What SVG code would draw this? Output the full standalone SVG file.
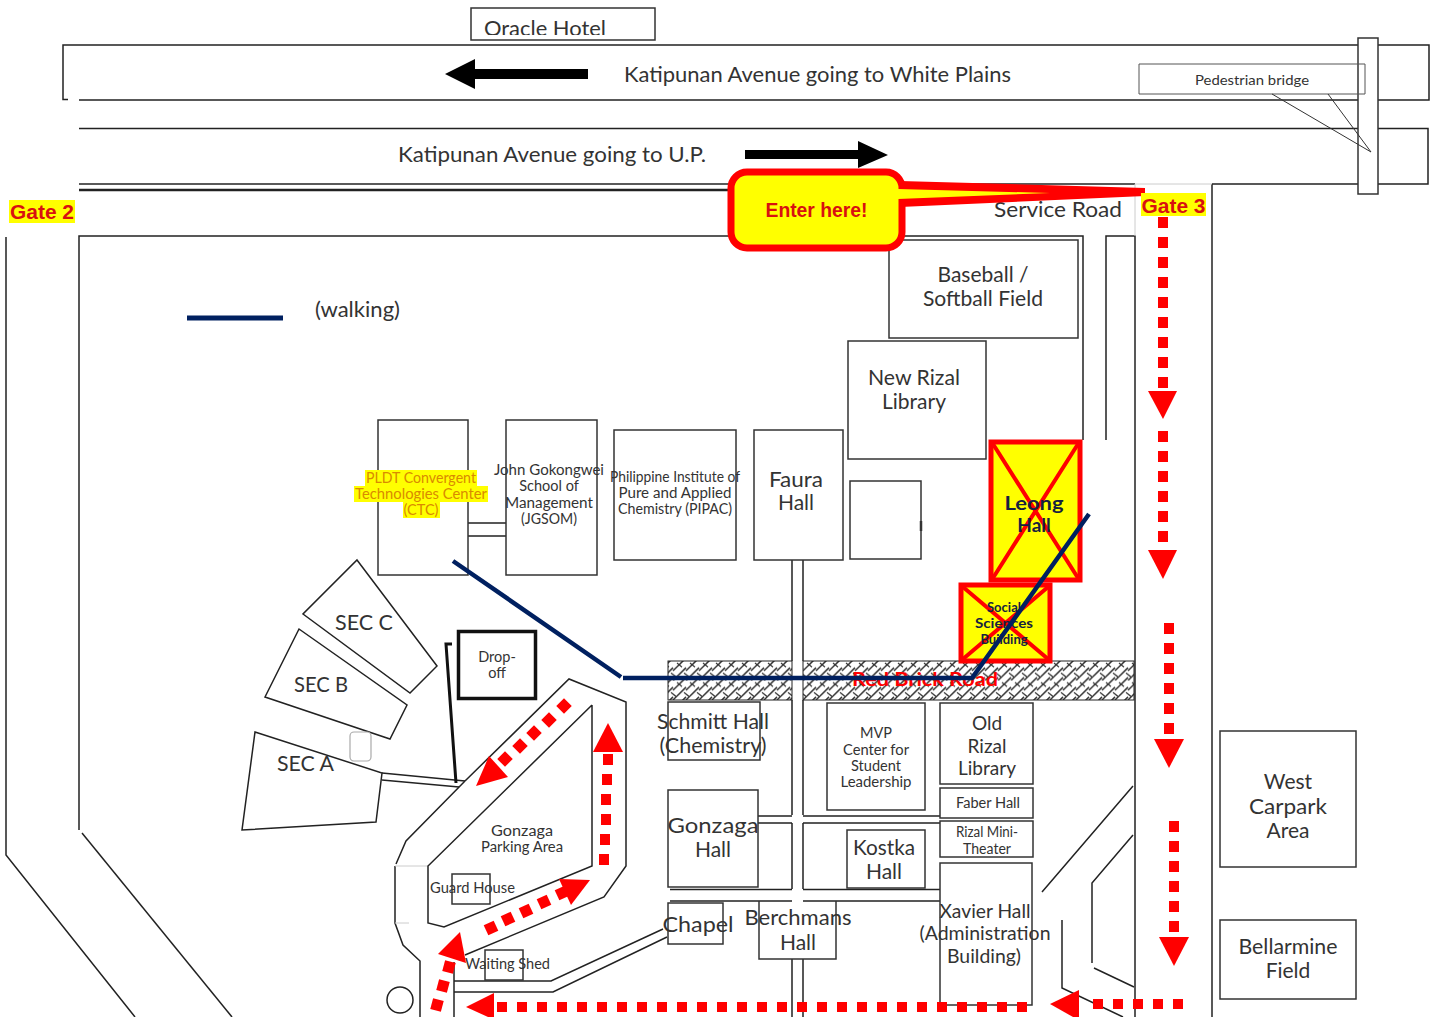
<svg xmlns="http://www.w3.org/2000/svg" width="1438" height="1017" viewBox="0 0 1438 1017">
<style>
text{font-family:"Lato","Liberation Sans",sans-serif;fill:#333;text-anchor:middle}
.l{font-size:21px}.m{font-size:19px}.s{font-size:14.5px}
.start{text-anchor:start}
.b{fill:none;stroke:#333;stroke-width:1.5}
.w{fill:#fff;stroke:#333;stroke-width:1.5}
.r{fill:none;stroke:#222;stroke-width:1.5}
.f{fill:none;stroke:#ccc;stroke-width:1}
.nv{fill:none;stroke:#002060;stroke-width:4.5}
.red{fill:#f00;stroke:none}
.rt{fill:#d81010;font-family:"Liberation Sans",sans-serif;font-weight:700}
.hl{fill:#ff0;stroke:none}
.x{fill:#ff0;stroke:#f00;stroke-width:5}
.xl{stroke:#f00;stroke-width:4;fill:none}
.dk{fill:#16213f;font-weight:700}
.o{fill:#d98a00}
</style>
<defs>
<pattern id="brick" width="13" height="19.500" patternUnits="userSpaceOnUse" y="661">
<rect width="13" height="19.500" fill="#fff"/>
<path d="M-3 9.750L10 -3M10 9.750L23 -3M-3 19.500L10 6.750M10 19.500L23 6.750M-3 29.250L10 16.500" fill="none" stroke="#333" stroke-width="1.500"/>
<path d="M1 2L6 6M8 12L13 16" fill="none" stroke="#333" stroke-width="1.200"/>
</pattern>
<clipPath id="oc"><rect x="471" y="8" width="184" height="27"/></clipPath>
<g id="sq"><rect x="-5.500" y="-5.500" width="11" height="11"/></g>
</defs>

<g id="connectors">
<path class="r" d="M68 99.500H63V45H1429V100H79"/>
<path class="r" d="M79 128.500H1428V184H1212"/>
<path class="r" d="M79 184H1135"/>
<path d="M79 190H731" stroke="#222" stroke-width="2.500" fill="none"/>
<path class="r" d="M79 830V236H1083V440"/>
<path class="r" d="M1106 440V236H1135V1017"/>
<path class="r" d="M1212 184V1017"/>
<path class="f" d="M1135 184V236M1135 184H1212"/>
<path class="r" d="M6 237V855L135 1017"/>
<path class="r" d="M82 833L232 1017"/>
<path class="r" d="M792 560V661M803 560V661M792 700V815M803 700V815M792 823V889M803 823V889M792 959V1017M803 959V1017"/>
<path class="r" d="M758 816H792M758 823H792M803 816H940M803 823H940"/>
<path class="r" d="M670 889.500H792M670 901H792M803 889.500H940M803 901H940"/>
<path class="r" d="M468 523H506M468 536H506"/>
<path class="r" d="M382 773L465 781M382 780L459 787"/>
<path d="M452 644H446L456 783" fill="none" stroke="#111" stroke-width="3"/>
<path class="r" d="M465 781L569 679L626 702V866L604 897L465 955"/>
<path class="r" d="M465 781L406 841L396 864"/>
<path class="r" d="M395 866V923L403 945L420 961V1017"/>
<path class="f" d="M395 866H428M395 923H409"/>
<path class="r" d="M592 705V866L444 927L428 923V866L592 705"/>
<path class="r" d="M454 962V1017"/>
<path class="r" d="M454 981H551L663 929M454 992H553L667 937"/>
<circle class="r" cx="400" cy="1000" r="13"/>
<path class="r" d="M1133 786L1042 892M1133 835L1092 883V963M1094 968L1134 987M1062 920V988L1123 1017"/>
<rect x="668" y="661" width="124" height="39" fill="url(#brick)" stroke="#222" stroke-width="1"/>
<rect x="803" y="661" width="331" height="39" fill="url(#brick)" stroke="#222" stroke-width="1"/>
</g>

<g id="oracle-hotel"><rect class="b" x="471" y="8" width="184" height="32"/><text class="l start" x="484" y="36" textLength="122" lengthAdjust="spacingAndGlyphs" clip-path="url(#oc)">Oracle Hotel</text></g>
<g id="road-labels">
<text class="l" x="817.500" y="82" textLength="387" lengthAdjust="spacingAndGlyphs">Katipunan Avenue going to White Plains</text>
<text class="l" x="552" y="162" textLength="308" lengthAdjust="spacingAndGlyphs">Katipunan Avenue going to U.P.</text>
<path d="M445 74L475 59V69H588V79H475V89Z" fill="#000"/>
<path d="M888 155L858 141V150H745V159H858V168Z" fill="#000"/>
</g>
<g id="pedestrian-bridge">
<rect class="w" x="1358" y="38" width="20" height="156"/>
<path d="M1139 64H1365V94H1139Z" fill="none" stroke="#555" stroke-width="1"/>
<path d="M1272 94L1371 152L1328 94" fill="none" stroke="#333" stroke-width="1"/>
<text x="1252" y="85" font-size="13.500" textLength="114" lengthAdjust="spacingAndGlyphs">Pedestrian bridge</text>
</g>
<g id="gate-2"><rect class="hl" x="9" y="200" width="66" height="23"/><text class="rt" x="42" y="219" font-size="20" textLength="64" lengthAdjust="spacingAndGlyphs">Gate 2</text></g>
<g id="service-road"><text class="l" x="1058" y="217" textLength="128" lengthAdjust="spacingAndGlyphs">Service Road</text></g>
<g id="baseball"><rect class="b" x="889" y="240" width="189" height="98"/><text class="l" x="983" y="282">Baseball /</text><text class="l" x="983" y="306" textLength="120" lengthAdjust="spacingAndGlyphs">Softball Field</text></g>
<g id="new-rizal"><rect class="b" x="848" y="341" width="138" height="118"/><text class="l" x="914" y="385" textLength="92" lengthAdjust="spacingAndGlyphs">New Rizal</text><text class="l" x="914" y="409">Library</text></g>
<g id="legend"><path d="M187 318H283" stroke="#002060" stroke-width="5" fill="none"/><text class="l start" x="315" y="317" textLength="85" lengthAdjust="spacingAndGlyphs">(walking)</text></g>
<g id="ctc"><rect class="b" x="378" y="420" width="90" height="155"/>
<rect class="hl" x="365" y="470" width="112" height="16"/><rect class="hl" x="354" y="486" width="134" height="16"/><rect class="hl" x="403" y="502" width="37" height="16"/>
<text class="s o" x="421" y="483" textLength="110" lengthAdjust="spacingAndGlyphs">PLDT Convergent</text><text class="s o" x="421" y="499" textLength="132" lengthAdjust="spacingAndGlyphs">Technologies Center</text><text class="s o" x="421" y="515" textLength="35" lengthAdjust="spacingAndGlyphs">(CTC)</text></g>
<g id="jgsom"><rect class="b" x="506" y="420" width="91" height="155"/><text class="s" x="549" y="475" textLength="110" lengthAdjust="spacingAndGlyphs">John Gokongwei</text><text class="s" x="549" y="491">School of</text><text class="s" x="549" y="508" textLength="88" lengthAdjust="spacingAndGlyphs">Management</text><text class="s" x="549" y="524" textLength="56" lengthAdjust="spacingAndGlyphs">(JGSOM)</text></g>
<g id="pipac"><rect class="b" x="614" y="430" width="122" height="130"/><text class="s" x="675" y="482" textLength="130" lengthAdjust="spacingAndGlyphs">Philippine Institute of</text><text class="s" x="675" y="498" textLength="113" lengthAdjust="spacingAndGlyphs">Pure and Applied</text><text class="s" x="675" y="514" textLength="114" lengthAdjust="spacingAndGlyphs">Chemistry (PIPAC)</text></g>
<g id="faura"><rect class="b" x="754" y="430" width="89" height="130"/><text class="l" x="796" y="487" textLength="54" lengthAdjust="spacingAndGlyphs">Faura</text><text class="l" x="796" y="510">Hall</text></g>
<g id="small-building"><rect class="b" x="850" y="481" width="71" height="78"/><path d="M921 521V531" stroke="#333" stroke-width="2.500"/></g>
<g id="leong"><rect class="x" x="991" y="442" width="89" height="138"/><path class="xl" d="M993 444L1078 578M1078 444L993 578"/><text class="m dk" x="1034" y="510" textLength="59" lengthAdjust="spacingAndGlyphs">Leong</text><text class="m dk" x="1034" y="532">Hall</text></g>
<g id="social-sciences"><rect class="x" x="961" y="585" width="89" height="76"/><path class="xl" d="M963 587L1048 659M1048 587L963 659"/><text class="dk" x="1004" y="612" font-size="13">Social</text><text class="dk" x="1004" y="628" font-size="13" textLength="58" lengthAdjust="spacingAndGlyphs">Sciences</text><text class="dk" x="1004" y="644" font-size="13">Building</text></g>
<g id="red-brick-road"><text x="925" y="686" font-size="19" textLength="146" lengthAdjust="spacingAndGlyphs" style="fill:#f00;font-weight:700">Red Brick Road</text></g>
<g id="walking-route"><path class="nv" d="M453 561L621 677M623 678H972L1089 514"/></g>
<g id="sec-c"><path class="r" d="M357 560L437 666L410 693L303 614Z"/><text class="l" x="364" y="630" textLength="58" lengthAdjust="spacingAndGlyphs">SEC C</text></g>
<g id="sec-b"><path class="r" d="M299 629L407 705L390 739L265 697Z"/><text class="l" x="321" y="692" textLength="54" lengthAdjust="spacingAndGlyphs">SEC B</text></g>
<g id="sec-a"><path class="r" d="M255 732L382 773L376 822L242 830Z"/><text class="l" x="305.500" y="771" textLength="57" lengthAdjust="spacingAndGlyphs">SEC A</text></g>
<g id="kiosk"><rect x="350" y="732" width="21" height="29" rx="4" fill="#fff" stroke="#aaa" stroke-width="1.200"/></g>
<g id="drop-off"><rect x="458.500" y="631.500" width="77" height="67" fill="#fff" stroke="#111" stroke-width="3.500"/><text class="s" x="497" y="662">Drop-</text><text class="s" x="497" y="678">off</text></g>
<g id="gonzaga-parking"><text class="s" x="522" y="836" textLength="62" lengthAdjust="spacingAndGlyphs">Gonzaga</text><text class="s" x="522" y="852" textLength="82" lengthAdjust="spacingAndGlyphs">Parking Area</text></g>
<g id="guard-house"><rect class="b" x="452" y="874" width="38" height="30"/><text class="s" x="472.500" y="893" textLength="85" lengthAdjust="spacingAndGlyphs">Guard House</text></g>
<g id="waiting-shed"><rect class="b" x="485" y="950" width="38" height="30"/><text class="s" x="507.500" y="969" textLength="85" lengthAdjust="spacingAndGlyphs">Waiting Shed</text></g>
<g id="schmitt"><rect class="b" x="668" y="702" width="92" height="58"/><text class="l" x="713" y="729" textLength="112" lengthAdjust="spacingAndGlyphs">Schmitt Hall</text><text class="l" x="713" y="753" textLength="107" lengthAdjust="spacingAndGlyphs">(Chemistry)</text></g>
<g id="mvp"><rect class="b" x="827" y="703" width="98" height="107"/><text class="s" x="876" y="738">MVP</text><text class="s" x="876" y="755" textLength="66" lengthAdjust="spacingAndGlyphs">Center for</text><text class="s" x="876" y="771" textLength="50" lengthAdjust="spacingAndGlyphs">Student</text><text class="s" x="876" y="787" textLength="71" lengthAdjust="spacingAndGlyphs">Leadership</text></g>
<g id="old-rizal"><rect class="b" x="940" y="703" width="93" height="81"/><text class="m" x="987" y="730">Old</text><text class="m" x="987" y="753">Rizal</text><text class="m" x="987" y="775" textLength="58" lengthAdjust="spacingAndGlyphs">Library</text></g>
<g id="faber"><rect class="b" x="940" y="788" width="93" height="30"/><text class="s" x="988" y="808" textLength="64" lengthAdjust="spacingAndGlyphs">Faber Hall</text></g>
<g id="rizal-mini"><rect class="b" x="940" y="821" width="93" height="36"/><text class="s" x="987" y="837" textLength="62" lengthAdjust="spacingAndGlyphs">Rizal Mini-</text><text class="s" x="987" y="854" textLength="48" lengthAdjust="spacingAndGlyphs">Theater</text></g>
<g id="gonzaga-hall"><rect class="b" x="668" y="790" width="90" height="97"/><text class="l" x="713" y="833" textLength="91" lengthAdjust="spacingAndGlyphs">Gonzaga</text><text class="l" x="713" y="857">Hall</text></g>
<g id="kostka"><rect class="b" x="847" y="830" width="78" height="58"/><text class="l" x="884" y="855" textLength="62" lengthAdjust="spacingAndGlyphs">Kostka</text><text class="l" x="884" y="879">Hall</text></g>
<g id="chapel"><rect class="b" x="668" y="903" width="55" height="41"/><text class="l" x="698" y="932" textLength="71" lengthAdjust="spacingAndGlyphs">Chapel</text></g>
<g id="berchmans"><path class="b" d="M759 901V959H836V901"/><text class="l" x="798" y="925" textLength="107" lengthAdjust="spacingAndGlyphs">Berchmans</text><text class="l" x="798" y="950">Hall</text></g>
<g id="xavier"><rect class="b" x="940" y="863" width="92" height="142"/><text class="m" x="985" y="918" textLength="91" lengthAdjust="spacingAndGlyphs">Xavier Hall</text><text class="m" x="985" y="940" textLength="131" lengthAdjust="spacingAndGlyphs">(Administration</text><text class="m" x="984" y="963" textLength="74" lengthAdjust="spacingAndGlyphs">Building)</text></g>
<g id="west-carpark"><rect class="b" x="1220" y="731" width="136" height="136"/><text class="l" x="1288" y="789">West</text><text class="l" x="1288" y="814" textLength="78" lengthAdjust="spacingAndGlyphs">Carpark</text><text class="l" x="1288" y="838">Area</text></g>
<g id="bellarmine"><rect class="b" x="1220" y="920" width="136" height="79"/><text class="l" x="1288" y="954" textLength="99" lengthAdjust="spacingAndGlyphs">Bellarmine</text><text class="l" x="1288" y="978">Field</text></g>

<g id="driving-route" class="red">
<path d="M1158 217h10v11h-10zM1158 237h10v11h-10zM1158 257h10v11h-10zM1158 277h10v11h-10zM1158 297h10v11h-10zM1158 317h10v11h-10zM1158 337h10v11h-10zM1158 357h10v11h-10zM1158 377h10v11h-10z"/>
<path d="M1148 391H1177L1163 419Z"/>
<path d="M1158 431h10v11h-10zM1158 451h10v11h-10zM1158 471h10v11h-10zM1158 491h10v11h-10zM1158 511h10v11h-10zM1158 531h10v11h-10z"/>
<path d="M1148 550H1177L1163 579Z"/>
<path d="M1164 623h10v11h-10zM1164 643h10v11h-10zM1164 663h10v11h-10zM1164 683h10v11h-10zM1164 703h10v11h-10zM1164 723h10v11h-10z"/>
<path d="M1154 739H1184L1169 768Z"/>
<path d="M1169 821h10v11h-10zM1169 841h10v11h-10zM1169 861h10v11h-10zM1169 881h10v11h-10zM1169 901h10v11h-10zM1169 921h10v11h-10z"/>
<path d="M1159 937H1189L1174 966Z"/>
<path d="M1173 999h10v10h-10zM1153 999h10v10h-10zM1133 999h10v10h-10zM1113 999h10v10h-10zM1093 999h10v10h-10z"/>
<path d="M1050 1004L1079 990V1017H1073Z"/>
<path d="M497 1002h10v10h-10zM517 1002h10v10h-10zM537 1002h10v10h-10zM557 1002h10v10h-10zM577 1002h10v10h-10zM597 1002h10v10h-10zM617 1002h10v10h-10zM637 1002h10v10h-10zM657 1002h10v10h-10zM677 1002h10v10h-10zM697 1002h10v10h-10zM717 1002h10v10h-10zM737 1002h10v10h-10zM757 1002h10v10h-10zM777 1002h10v10h-10zM797 1002h10v10h-10zM817 1002h10v10h-10zM837 1002h10v10h-10zM857 1002h10v10h-10zM877 1002h10v10h-10zM897 1002h10v10h-10zM917 1002h10v10h-10zM937 1002h10v10h-10zM957 1002h10v10h-10zM977 1002h10v10h-10zM997 1002h10v10h-10zM1017 1002h10v10h-10z"/>
<path d="M466 1007L494 993V1017H488Z"/>
<use href="#sq" transform="translate(437 1005) rotate(15)"/><use href="#sq" transform="translate(443 986) rotate(15)"/><use href="#sq" transform="translate(449 967) rotate(15)"/>
<path d="M460 932L438 954L466 963Z"/>
<use href="#sq" transform="translate(491 928) rotate(-25)"/><use href="#sq" transform="translate(508 919) rotate(-25)"/><use href="#sq" transform="translate(526 911) rotate(-25)"/><use href="#sq" transform="translate(544 902) rotate(-25)"/><use href="#sq" transform="translate(562 893) rotate(-25)"/>
<path d="M590 880L559 879L571 905Z"/>
<path d="M599 854h10v11h-10zM600 834h10v11h-10zM601 814h10v11h-10zM601 794h10v11h-10zM602 774h10v11h-10zM603 754h10v11h-10z"/>
<path d="M608 723L593 752H623Z"/>
<use href="#sq" transform="translate(564 706) rotate(45)"/><use href="#sq" transform="translate(549 720) rotate(45)"/><use href="#sq" transform="translate(534 733) rotate(45)"/><use href="#sq" transform="translate(520 746) rotate(45)"/><use href="#sq" transform="translate(505 759) rotate(45)"/>
<path d="M489 756L476 786L508 777Z"/>
</g>

<g id="enter-here">
<path d="M900 181L1145 188V196L900 207Z" fill="#f00"/>
<rect x="731" y="172" width="171" height="76" rx="16" fill="#ff0" stroke="#f00" stroke-width="7"/>
<path d="M898 189L1050 193L898 199Z" fill="#ff0"/>
<text class="rt" x="816.500" y="217" font-size="20" textLength="102" lengthAdjust="spacingAndGlyphs">Enter here!</text>
</g>
<g id="gate-3"><rect class="hl" x="1141" y="193" width="65" height="23"/><text class="rt" x="1173.500" y="213" font-size="20" textLength="64" lengthAdjust="spacingAndGlyphs">Gate 3</text></g>
</svg>
